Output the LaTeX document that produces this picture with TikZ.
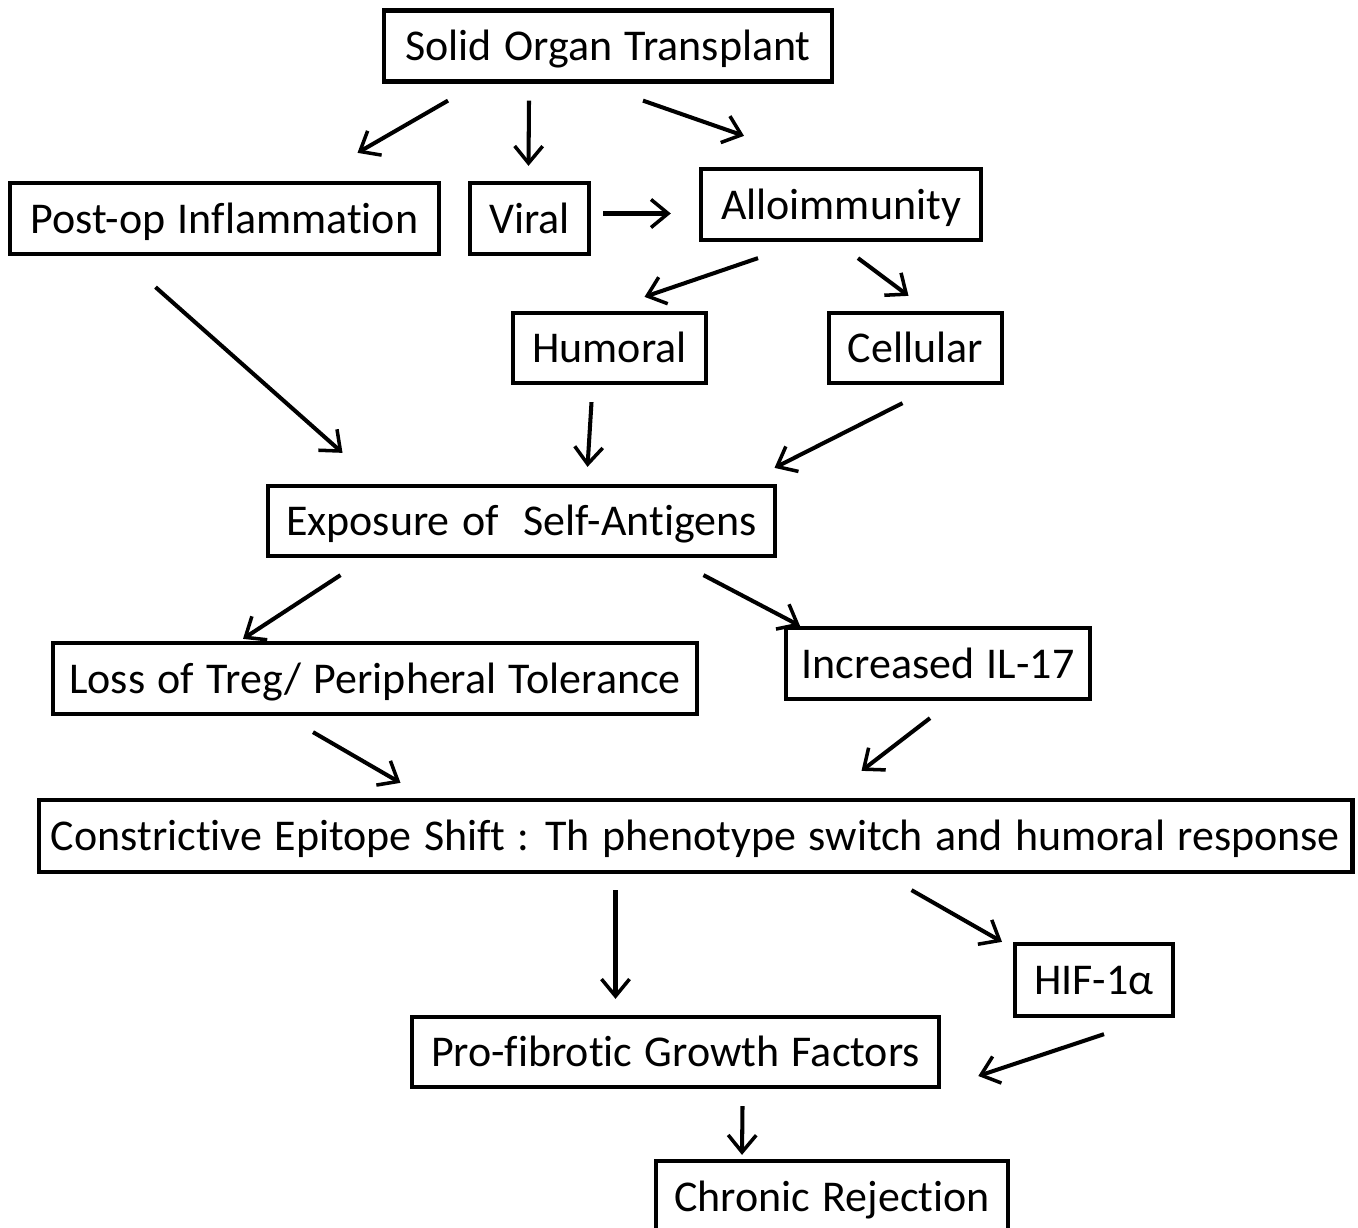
\documentclass[tikz,border=0pt]{standalone}
\usepackage{fontspec}
\setmainfont{Carlito}[Ligatures=NoCommon, WordSpace=1.25]
\usetikzlibrary{arrows.meta,calc}
\tikzset{
    box/.style={
        rectangle,
        draw=black,
        line width=1.2pt,
        fill=white,
        inner sep=0pt,
        font=\fontsize{12.5}{15}\selectfont,
        text height=0.85em,
        text depth=0pt,
        minimum height=0.71cm
    },
    arr/.style={
        -{Straight Barb[length=1.7mm,width=2.8mm,line width=1pt]},
        draw=black,
        line width=1.15pt
    }
}
\begin{document}
\begin{tikzpicture}[x=0.01cm, y=-0.01cm]

\useasboundingbox (0,0) rectangle (1358,1228);

% boxes
\node[box, minimum width=4.48cm] (sot) at (608,46) {Solid Organ Transplant};
\node[box, minimum width=4.29cm] (postop) at (224.5,218.5) {Post-op Inflammation};
\node[box, minimum width=1.19cm] (viral) at (529.5,218.5) {Viral};
\node[box, minimum width=2.80cm] (allo) at (841,204.5) {Alloimmunity};
\node[box, minimum width=1.93cm, minimum height=0.70cm] (humoral) at (609.5,348) {Humoral};
\node[box, minimum width=1.73cm, minimum height=0.70cm] (cellular) at (915.5,348) {Cellular};
\node[box, minimum width=5.07cm, minimum height=0.70cm] (expo) at (521.5,521) {Exposure of~ Self-Antigens};
\node[box, minimum width=6.44cm] (treg) at (375,678.5) {Loss of Treg/ Peripheral Tolerance};
\node[box, minimum width=3.04cm] (il17) at (938,663.5) {Increased IL-17};
\node[box, minimum width=13.13cm, minimum height=0.72cm] (shift) at (695.5,836) {Constrictive Epitope Shift : Th phenotype switch and humoral response};
\node[box, minimum width=1.58cm, minimum height=0.72cm] (hif) at (1094,980) {HIF-1α};
\node[box, minimum width=5.27cm, minimum height=0.70cm] (fibro) at (675.5,1052) {Pro-fibrotic Growth Factors};
\node[box, minimum width=3.52cm, minimum height=0.72cm] (chronic) at (832,1197) {Chronic Rejection};

% arrows
\draw[arr] ($(sot.south)+(-160,17)$) -- ($(postop.north)+(133,-28)$);
\draw[arr] ($(sot.south)+(-79,17)$) -- ($(viral.north)+(-1,-15)$);
\draw[arr] ($(sot.south)+(35,17)$) -- ($(allo.north)+(-97,-31)$);
\draw[arr] ($(viral.east)+(12,-5)$) -- ($(allo.west)+(-28,9)$);
\draw[arr] ($(allo.south)+(-83,16)$) -- ($(humoral.north)+(35,-14)$);
\draw[arr] ($(allo.south)+(17,16)$) -- ($(cellular.north)+(-7,-15)$);
\draw[arr] ($(postop.south)+(-69,31)$) -- ($(expo.north)+(-179,-31)$);
\draw[arr] ($(humoral.south)+(-18,17)$) -- ($(expo.north)+(66,-17)$);
\draw[arr] ($(cellular.south)+(-13,18)$) -- ($(expo.north)+(253,-16)$);
\draw[arr] ($(expo.south)+(-181,17)$) -- ($(treg.north)+(-132,-2)$);
\draw[arr] ($(expo.south)+(182,17)$) -- ($(il17.north)+(-138,0)$);
\draw[arr] ($(treg.south)+(-62,16)$) -- ($(shift.north)+(-295,-15)$);
\draw[arr] ($(il17.south)+(-8,17)$) -- ($(shift.north)+(166,-27)$);
\draw[arr] ($(shift.south)+(-80,16)$) -- ($(fibro.north)+(-60,-16)$);
\draw[arr] ($(shift.south)+(216,16)$) -- ($(hif.north)+(-92,0)$);
\draw[arr] ($(hif.south)+(10,16)$) -- ($(fibro.east)+(37,24)$);
\draw[arr] ($(fibro.south)+(67,17)$) -- ($(chronic.north)+(-90,-4)$);

\end{tikzpicture}
\end{document}
